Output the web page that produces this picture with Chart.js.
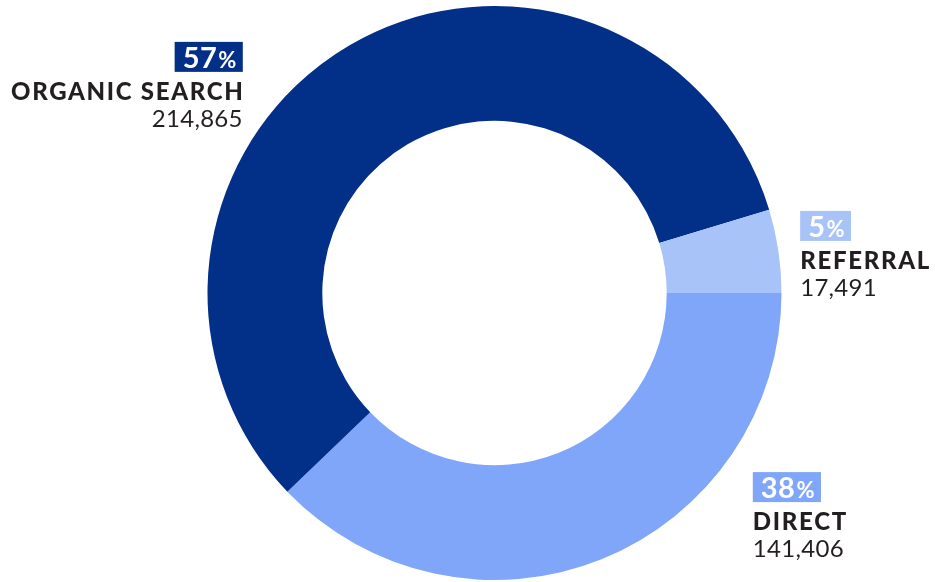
<!DOCTYPE html>
<html><head><meta charset="utf-8">
<script src="https://cdn.jsdelivr.net/npm/chart.js@4"></script>
<style>html,body{margin:0;padding:0;background:#fff}#w{width:935px;height:582px;position:relative}</style>
</head><body><div id="w"><canvas id="c"></canvas></div>
<script>
const categories = ["DIRECT", "ORGANIC SEARCH", "REFERRAL"];
const sessions = [141406, 214865, 17491];
const colors = ["#80a6fa", "#022f88", "#a7c3f7"];
// label anchors in units of outer radius from the centre, and alignment
const labelAnchors = [
  {dx: 0.90, dy: 0.624, align: "left"},
  {dx: -0.877, dy: -0.875, align: "right"},
  {dx: 1.065, dy: -0.286, align: "left"}
];
const FONT = "Lato, 'Open Sans', sans-serif";
const total = sessions.reduce((a, b) => a + b, 0);

const labelPlugin = {
  id: "labels",
  afterDraw(chart) {
    const ctx = chart.ctx;
    const arc = chart.getDatasetMeta(0).data[0];
    const cx = arc.x, cy = arc.y, R = arc.outerRadius;
    categories.forEach((cat, i) => {
      const a = labelAnchors[i];
      const ax = cx + a.dx * R, top = cy + a.dy * R;
      const pct = Math.round(sessions[i] / total * 100);
      ctx.save();
      ctx.textBaseline = "alphabetic";
      ctx.letterSpacing = "0.5px";
      ctx.font = "bold 29px " + FONT;
      const numW = ctx.measureText(String(pct)).width;
      ctx.font = "bold 22px " + FONT;
      const pW = ctx.measureText("%").width;
      const boxW = numW + pW + 15;
      const bx = a.align === "left" ? ax : ax - boxW;
      ctx.fillStyle = colors[i];
      ctx.fillRect(bx, top, boxW, 30);
      ctx.fillStyle = "#ffffff";
      ctx.textAlign = "left";
      ctx.font = "bold 29px " + FONT;
      ctx.fillText(String(pct), bx + 8, top + 26);
      ctx.font = "bold 22px " + FONT;
      ctx.fillText("%", bx + 8 + numW + 1, top + 26);
      ctx.fillStyle = "#231f20";
      ctx.textAlign = a.align;
      ctx.letterSpacing = "1.7px";
      ctx.font = "900 24px " + FONT;
      const shift = a.align === "right" ? 1.7 : 0;
      ctx.fillText(cat, ax + shift, top + 58);
      ctx.letterSpacing = "0.3px";
      ctx.font = "24px " + FONT;
      ctx.fillText(sessions[i].toLocaleString("en-US"), ax, top + 85);
      ctx.restore();
    });
  }
};

new Chart(document.getElementById("c"), {
  type: "doughnut",
  data: {
    labels: categories,
    datasets: [{data: sessions, backgroundColor: colors, borderWidth: 0, hoverOffset: 0}]
  },
  options: {
    responsive: true,
    maintainAspectRatio: false,
    animation: false,
    rotation: 90,
    cutout: "60%",
    layout: {padding: {top: 6, bottom: 2, left: 54, right: 0}},
    plugins: {legend: {display: false}, tooltip: {enabled: false}}
  },
  plugins: [labelPlugin]
});
</script></body></html>
